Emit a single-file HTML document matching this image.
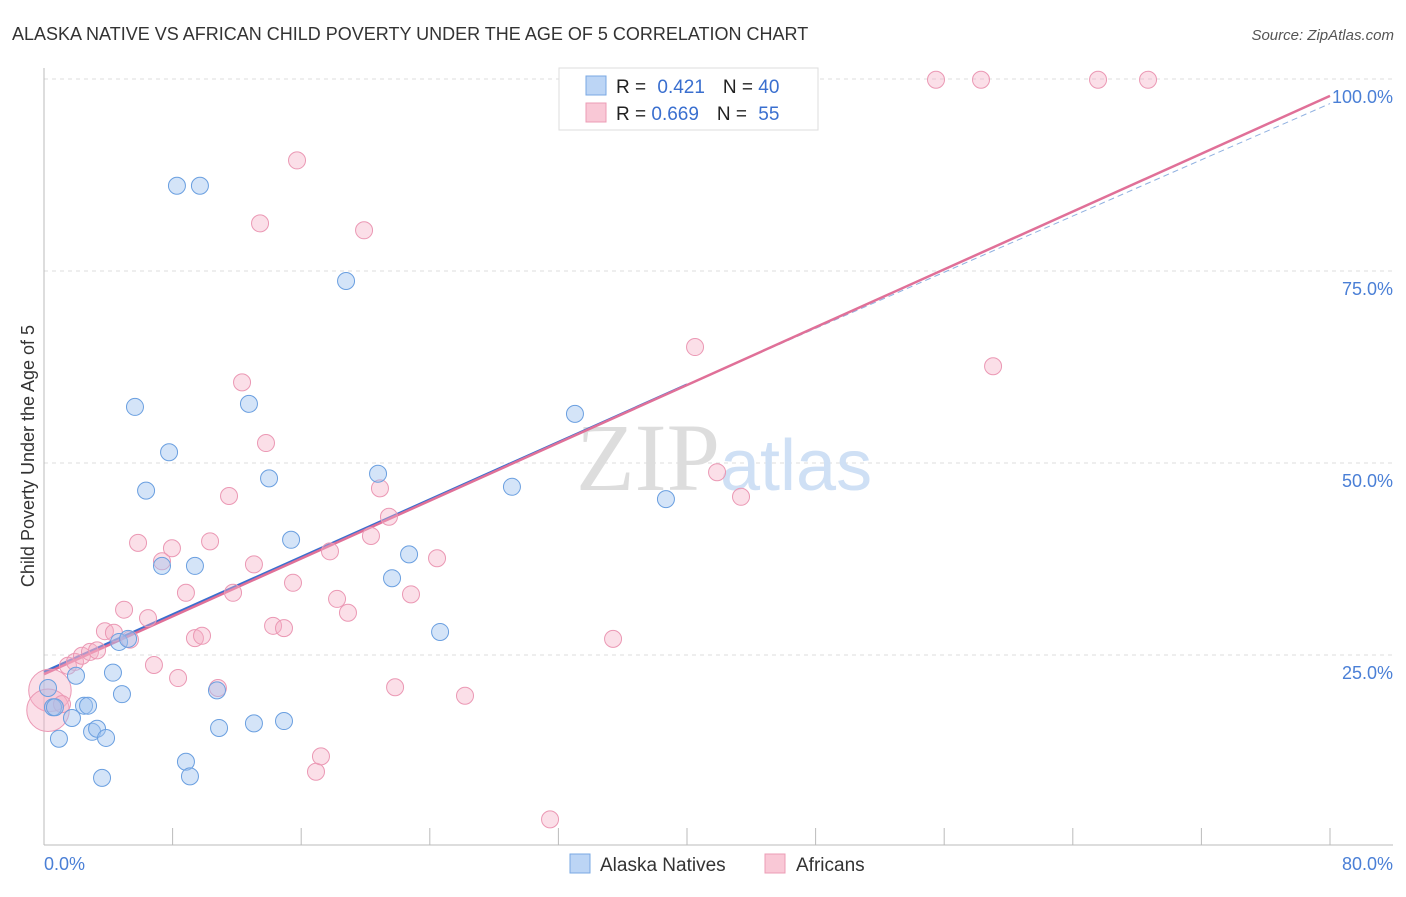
<!DOCTYPE html>
<html><head><meta charset="utf-8"><style>
body{margin:0;background:#fff;font-family:"Liberation Sans",sans-serif}
</style></head><body>
<svg width="1406" height="892" xmlns="http://www.w3.org/2000/svg" font-family="Liberation Sans, sans-serif">
<text x="12" y="40" font-size="18" fill="#333">ALASKA NATIVE VS AFRICAN CHILD POVERTY UNDER THE AGE OF 5 CORRELATION CHART</text>
<text x="1394" y="40" font-size="15" fill="#555" text-anchor="end" font-style="italic">Source: ZipAtlas.com</text>
<g id="grid"></g>
<text x="720" y="490" font-size="96" fill="#ddd" text-anchor="end" font-family="Liberation Serif, serif">ZIP</text>
<text x="720" y="490" font-size="72" fill="#cfe0f5">atlas</text>
<text transform="translate(34,456) rotate(-90)" font-size="18" fill="#333" text-anchor="middle">Child Poverty Under the Age of 5</text>
<g id="lines"></g>
<g id="pts"></g>
<g>
<rect x="559" y="68" width="259" height="62" fill="#fff" stroke="#ddd"/>
<rect x="586" y="76" width="20" height="19" fill="#bcd5f5" stroke="#7aa8e3"/>
<rect x="586" y="103" width="20" height="19" fill="#f9c8d6" stroke="#ec9cb6"/>
<text x="616" y="93" font-size="19" fill="#222">R = <tspan fill="#3a6fcf" dx="6">0.421</tspan><tspan dx="18">N = </tspan><tspan fill="#3a6fcf">40</tspan></text>
<text x="616" y="120" font-size="19" fill="#222">R = <tspan fill="#3a6fcf">0.669</tspan><tspan dx="18">N = </tspan><tspan fill="#3a6fcf" dx="6">55</tspan></text>
</g>
<g>
<rect x="570" y="854" width="20" height="19" fill="#bcd5f5" stroke="#7aa8e3"/>
<text x="600" y="871" font-size="19" fill="#333">Alaska Natives</text>
<rect x="765" y="854" width="20" height="19" fill="#f9c8d6" stroke="#ec9cb6"/>
<text x="796" y="871" font-size="19" fill="#333">Africans</text>
</g>
</svg>
<script>
const blueX=[0.25,0.56,0.93,1.74,1.99,2.49,2.74,2.99,3.30,3.61,3.86,4.29,4.85,4.67,5.23,5.66,6.35,7.34,7.78,8.27,8.83,9.08,9.39,9.70,10.76,10.89,12.75,13.06,14.0,14.93,15.37,18.79,20.78,21.65,22.71,24.64,29.11,33.03,38.69,0.68];
const blueY=[20.7,18.2,14.1,16.8,22.3,18.4,18.4,15.0,15.4,9.0,14.2,22.7,19.9,26.7,27.1,57.3,46.4,36.6,51.4,86.1,11.1,9.2,36.6,86.1,20.4,15.5,57.7,16.1,48.0,16.4,40.0,73.7,48.6,35.0,38.1,28.0,46.9,56.4,45.3,18.2];
const pinkX=[0.37,0.25,1.12,1.49,1.93,2.36,2.86,3.30,3.79,4.35,4.98,5.35,5.85,6.47,6.84,7.34,7.96,8.34,8.83,9.39,9.83,10.33,10.82,11.51,11.76,12.32,13.06,13.44,13.81,14.25,14.93,15.49,15.74,16.92,17.23,17.79,18.23,18.91,19.91,20.34,20.90,21.46,21.84,22.83,24.45,26.19,31.48,35.40,40.50,41.87,43.36,55.49,58.29,59.04,65.57,68.68];
const pinkY=[20.4,17.8,18.6,23.6,24.1,24.9,25.4,25.6,28.1,27.9,30.9,27.0,39.6,29.8,23.7,37.2,38.9,22.0,33.1,27.2,27.5,39.8,20.7,45.7,33.1,60.5,36.8,81.2,52.6,28.8,28.5,34.4,89.4,9.8,11.8,38.5,32.3,30.5,80.3,40.5,46.7,43.0,20.8,32.9,37.6,19.7,3.6,27.1,65.1,48.8,45.6,99.9,99.9,62.6,99.9,99.9];
const pinkSize=[2.5,2.5];
const blueTrend=[22.8,0.935];
const pinkTrend=[22.5,0.9413];
const yTicks=[25,50,75,100];
const yTickLabels=["25.0%","50.0%","75.0%","100.0%"];
const xTickCount=10;
const NS="http://www.w3.org/2000/svg";
const sx=v=>44+v/80*1286, sy=v=>847-v*7.68;
function mk(p,t,a){const e=document.createElementNS(NS,t);for(const k in a)e.setAttribute(k,a[k]);p.appendChild(e);return e;}
const g=document.getElementById('grid');
yTicks.forEach((t,i)=>{
 const l=mk(g,'line',{x1:44,x2:1393,y1:sy(t),y2:sy(t),stroke:'#ddd','stroke-dasharray':'4,4'});
 
 
 const tx=mk(g,'text',{x:1393,y:sy(t)+24,'font-size':18,fill:'#4a7fd6','text-anchor':'end'});
 tx.textContent=yTickLabels[i];
 
 
});
const ax=mk(g,'line',{x1:44,x2:1393,y1:845,y2:845,stroke:'#bbb'});


const ay=mk(g,'line',{x1:44,x2:44,y1:68,y2:845,stroke:'#bbb'});


for(let i=0;i<=xTickCount;i++){const x=44+i*128.6;const t=mk(g,'line',{x1:x,x2:x,y1:828,y2:845,stroke:'#bbb'});
 
 }
const x0=mk(g,'text',{x:44,y:870,'font-size':18,fill:'#4a7fd6'});x0.textContent='0.0%';


const x1=mk(g,'text',{x:1393,y:870,'font-size':18,fill:'#4a7fd6','text-anchor':'end'});x1.textContent='80.0%';


const L=document.getElementById('lines');
const bl=mk(L,'line',{x1:sx(0),y1:sy(blueTrend[0]),x2:sx(40),y2:sy(blueTrend[0]+40*blueTrend[1]),stroke:'#3a6fcf','stroke-width':2.5});


const bd=mk(L,'line',{x1:sx(40),y1:sy(blueTrend[0]+40*blueTrend[1]),x2:sx(80),y2:sy(blueTrend[0]+80*blueTrend[1]-0.8),stroke:'#8fb0e0','stroke-width':1,'stroke-dasharray':'6,4'});


const pl=mk(L,'line',{x1:sx(0),y1:sy(pinkTrend[0]),x2:sx(80),y2:sy(pinkTrend[0]+80*pinkTrend[1]),stroke:'#e07098','stroke-width':2.5});


const P=document.getElementById('pts');
pinkX.forEach((v,i)=>{const c=mk(P,'circle',{cx:sx(v),cy:sy(pinkY[i]),r:8.5*(pinkSize[i]||1),fill:'rgba(246,176,198,0.4)',stroke:'#eb98b4','stroke-width':1});
 
 });
blueX.forEach((v,i)=>{const c=mk(P,'circle',{cx:sx(v),cy:sy(blueY[i]),r:8.5,fill:'rgba(160,196,240,0.45)',stroke:'#6a9fe0','stroke-width':1});
 
 });
</script>
</body></html>
